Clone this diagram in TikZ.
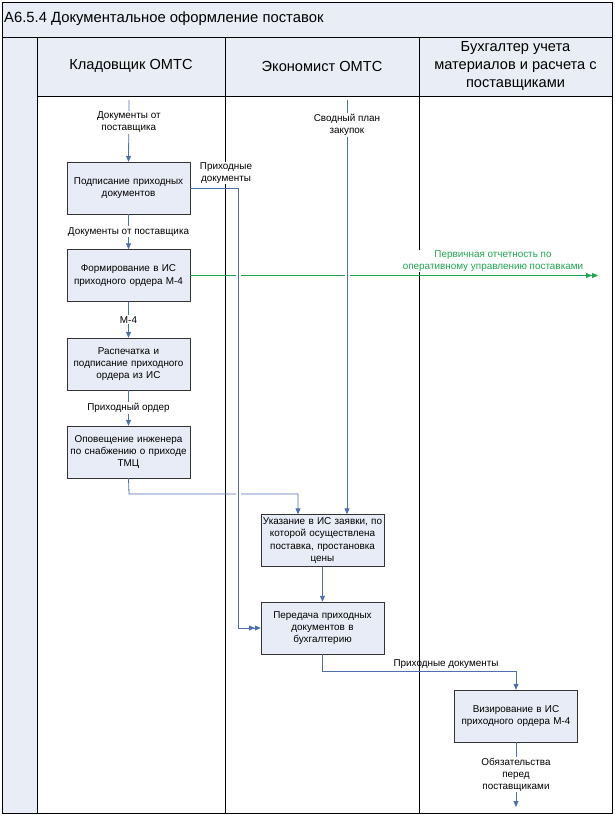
\documentclass[tikz,border=0pt]{standalone}
\usepackage{fontspec}
\setmainfont{Liberation Sans}
\usetikzlibrary{arrows.meta}

\definecolor{lanefill}{HTML}{E9EDF6}
\definecolor{boxfill}{HTML}{E8ECF6}
\definecolor{flowblue}{HTML}{4F6FAC}
\definecolor{flowgreen}{HTML}{1FA54F}

\begin{document}
\begin{tikzpicture}[x=1pt,y=-1pt,
        activity/.style={draw=black!80,fill=boxfill,minimum width=123pt,minimum height=52pt,
            text width=123pt,align=center,inner sep=0pt,font=\fontsize{9.9}{12.3}\selectfont},
        lanehead/.style={align=center,font=\fontsize{14.6}{18}\selectfont},
        flowlabel/.style={fill=white,inner sep=1pt,align=center,font=\fontsize{9.9}{12}\selectfont},
        flow/.style={draw=flowblue,line width=0.8pt,-{Triangle[width=5pt,length=6pt]}},
        flowtwo/.style={flow,-{Triangle[width=5pt,length=6pt]Triangle[width=5pt,length=6pt]}},
        report/.style={draw=flowgreen,line width=0.8pt,-{Triangle[width=5pt,length=6pt]Triangle[width=5pt,length=6pt]}},
        halo/.style={draw=white,line width=5pt},
        ]
    \useasboundingbox (0,0) rectangle (614,815);
    % swimlane frame
    \fill[lanefill] (2,2) rectangle (612,37);
    \fill[lanefill] (37,37) rectangle (612,96);
    \fill[lanefill] (2,37) rectangle (37,813);
    \draw[line width=0.8pt] (2,2) rectangle (612,813);
    \draw[line width=0.8pt] (2,37) -- (612,37);
    \draw[line width=0.8pt] (37,96) -- (612,96);
    \draw[line width=0.8pt] (37,37) -- (37,813);
    \draw[line width=0.8pt] (225,37) -- (225,813);
    \draw[line width=0.8pt] (419,37) -- (419,813);
    \node (title) [anchor=west,inner sep=0pt,font=\fontsize{14.8}{16}\selectfont] at (4,19)
        {А6.5.4 Документальное оформление поставок};
    \node (storekeeper) [lanehead] at (131,66) {Кладовщик ОМТС};
    \node (economist) [lanehead] at (322,66) {Экономист ОМТС};
    \node (accountant) [lanehead] at (515.5,66) {Бухгалтер учета\\материалов и расчета с\\поставщиками};

    % activities
    \node (sign) [activity] at (128.5,188) {Подписание приходных\\документов};
    \node (form) [activity] at (128.5,275.5) {Формирование в ИС\\приходного ордера М-4};
    \node (print) [activity] at (128.5,364) {Распечатка и\\подписание приходного\\ордера из ИС};
    \node (notify) [activity] at (128.5,452) {Оповещение инженера\\по снабжению о приходе\\ТМЦ};
    \node (mark) [activity] at (322.5,540.5) {Указание в ИС заявки, по\\которой осуществлена\\поставка, простановка\\цены};
    \node (hand) [activity] at (322.5,628) {Передача приходных\\документов в\\бухгалтерию};
    \node (visa) [activity] at (516,716) {Визирование в ИС\\приходного ордера М-4};

    \coordinate (docsin) at (129,100);
    \coordinate (plan) at (347,100);
    \coordinate (j1) at (238,188);
    \coordinate (j2) at (238,628);
    \coordinate (j3) at (129,494);
    \coordinate (j4) at (298,494);
    \coordinate (j5) at (322.5,671);
    \coordinate (j6) at (516,671);
    \coordinate (reportout) at (598,275.5);
    \coordinate (debtout) at (516,807);

    % connectors crossed by others
    \draw[report] (form.east) -- (reportout);
    \node (reportlbl) [flowlabel,text=flowgreen] at (493,261)
        {Первичная отчетность по\\оперативному управлению поставками};
    \draw[flow] (notify.south) -- (j3) -- (j4) -- (j4 |- mark.north);
    \draw[halo,shorten <=6pt,shorten >=6pt] (j1) -- (j2);
    \draw[halo,shorten <=4pt,shorten >=10pt] (plan) -- (plan |- mark.north);

    % connectors
    \draw[flow] (docsin) -- (sign.north) node[flowlabel,pos=0.36] {Документы от\\поставщика};
    \draw[flow] (sign.south) -- (form.north) node[flowlabel,midway] {Документы от поставщика};
    \draw[flow] (form.south) -- (print.north) node[flowlabel,midway] {М-4};
    \draw[flow] (print.south) -- (notify.north) node[flowlabel,midway] {Приходный ордер};
    \draw[flow] (plan) -- (plan |- mark.north) node[flowlabel,pos=0.06] {Сводный план\\закупок};
    \draw[flowtwo] (sign.east) -- (j1) -- (j2) -- (hand.west);
    \node (handlbl) [flowlabel] at (226,173) {Приходные\\документы};
    \draw[flow] (mark.south) -- (hand.north);
    \draw[flow] (hand.south) -- (j5) -- (j6) -- (visa.north);
    \node (visalbl) [inner sep=1pt,font=\fontsize{9.9}{12}\selectfont] at (446,664) {Приходные документы};
    \draw[flow] (visa.south) -- (debtout) node[flowlabel,midway] {Обязательства\\перед\\поставщиками};
\end{tikzpicture}
\end{document}
